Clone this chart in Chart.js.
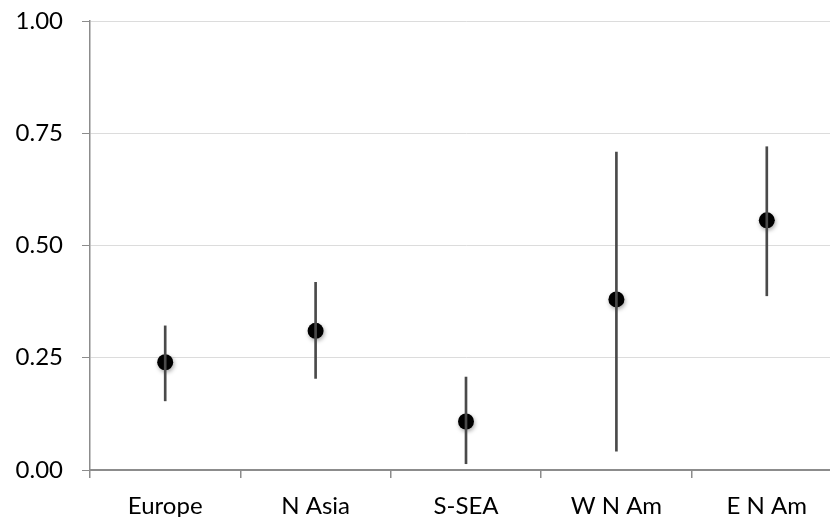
<!DOCTYPE html>
<html>
<head>
<meta charset="utf-8">
<script src="https://cdn.jsdelivr.net/npm/chart.js@4"></script>
<style>
    html, body { margin: 0; padding: 0; background: #fff; overflow: hidden; }
    #wrap { width: 900px; height: 517px; }
</style>
</head>
<body>
<div id="wrap"><canvas id="chart" width="900" height="517"></canvas></div>
<script>
// Regions and estimated values
const regions = ['Europe', 'N Asia', 'S-SEA', 'W N Am', 'E N Am'];
const means = [0.240, 0.310, 0.108, 0.380, 0.556];
const lows = [0.154, 0.204, 0.014, 0.042, 0.388];
const highs = [0.321, 0.418, 0.207, 0.708, 0.720];
const yTicks = [0, 0.25, 0.5, 0.75, 1];

const AXIS_GREY = '#8c8c8c';
const FONT = { family: 'Lato', size: 24 };

// soft shadow under the dots, like the original
const dotShadow = {
    id: 'dotShadow',
    beforeDatasetDraw(chart, args) {
        if (args.index !== 1) return;
        const ctx = chart.ctx;
        ctx.save();
        ctx.shadowColor = 'rgba(0,0,0,0.35)';
        ctx.shadowBlur = 4;
        ctx.shadowOffsetX = 1;
        ctx.shadowOffsetY = 2;
    },
    afterDatasetDraw(chart, args) {
        if (args.index !== 1) return;
        chart.ctx.restore();
    }
};

new Chart(document.getElementById('chart'), {
    type: 'bar',
    data: {
        labels: regions,
        datasets: [
            {
                // error bars as thin floating bars
                label: 'range',
                data: lows.map((lo, i) => [lo, highs[i]]),
                backgroundColor: '#4a4a4a',
                barThickness: 2,
                borderWidth: 0
            },
            {
                type: 'line',
                label: 'mean',
                data: means,
                showLine: false,
                pointRadius: 8,
                pointBackgroundColor: '#000',
                pointBorderWidth: 0
            }
        ]
    },
    options: {
        responsive: false,
        maintainAspectRatio: false,
        animation: false,
        layout: {
            autoPadding: false,
            padding: { top: 21, left: 0, right: 58, bottom: 0 }
        },
        plugins: {
            legend: { display: false },
            tooltip: { enabled: false }
        },
        scales: {
            x: {
                offset: true,
                grid: {
                    offset: true,
                    drawOnChartArea: false,
                    drawTicks: true,
                    tickLength: 8,
                    color: AXIS_GREY,
                    lineWidth: 1.5
                },
                border: { color: AXIS_GREY, width: 2 },
                ticks: { color: '#000', font: FONT, padding: 14, maxRotation: 0 },
                afterFit(scale) {
                    scale.height = 47;
                    scale.paddingLeft = 0;
                    scale.paddingRight = 0;
                }
            },
            y: {
                min: 0,
                max: 1,
                afterBuildTicks(scale) {
                    scale.ticks = yTicks.map(v => ({ value: v }));
                },
                grid: {
                    color: '#dcdcdc',
                    tickColor: AXIS_GREY,
                    tickLength: 8,
                    lineWidth: 1
                },
                border: { color: AXIS_GREY, width: 1.5 },
                ticks: {
                    color: '#000',
                    font: FONT,
                    padding: 19,
                    callback: v => Number(v).toFixed(2)
                },
                afterFit(scale) {
                    scale.width = 90;
                    scale.paddingTop = 0;
                    scale.paddingBottom = 0;
                }
            }
        }
    },
    plugins: [dotShadow]
});
</script>
</body>
</html>
